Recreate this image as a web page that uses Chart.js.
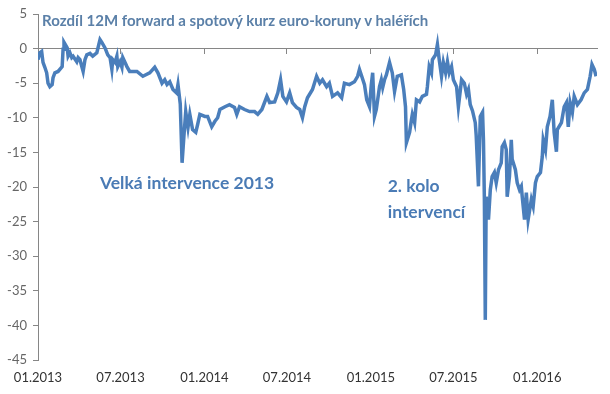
<!DOCTYPE html>
<html>
<head>
<meta charset="utf-8">
<script src="https://cdn.jsdelivr.net/npm/chart.js@4"></script>
<style>
  html, body { margin: 0; padding: 0; background: #fff; }
  #wrap { width: 610px; height: 394px; position: relative; }
  .note { position: absolute; white-space: nowrap; font-family: Lato, sans-serif; font-weight: bold; line-height: 1; transform: translateY(-50%); }
</style>
</head>
<body>
<div id="wrap"><canvas id="spreadChart" width="610" height="394"></canvas></div>
<script>
// tick positions in days since 1.1.2013, with their labels
const tickDays = [0, 181, 365, 546, 730, 911, 1095];
const tickLabels = ['01.2013', '07.2013', '01.2014', '07.2014', '01.2015', '07.2015', '01.2016'];
const yTicks = [-45, -40, -35, -30, -25, -20, -15, -10, -5, 0, 5];

// days since 1.1.2013
const days = [
    0, 4, 8, 11, 15, 19, 22, 26, 31, 33, 37, 44, 53, 55, 57, 64, 66, 70, 74, 77,
    85, 88, 92, 99, 103, 107, 114, 120, 129, 136, 140, 147, 153, 158, 162, 164, 169, 173, 175, 180,
    184, 186, 195, 201, 217, 230, 245, 256, 263, 272, 278, 283, 289, 296, 304, 307, 312, 316, 320, 324,
    329, 333, 339, 346, 350, 355, 366, 372, 381, 388, 394, 399, 410, 420, 431, 436, 442, 453, 464, 475,
    482, 491, 502, 508, 519, 526, 532, 537, 545, 552, 558, 567, 574, 580, 585, 591, 602, 611, 618, 624,
    633, 639, 646, 657, 666, 672, 683, 694, 701, 705, 710, 716, 721, 727, 731, 734, 738, 742, 749, 753,
    756, 760, 764, 771, 775, 777, 782, 788, 797, 802, 806, 808, 815, 819, 821, 826, 830, 837, 843, 852,
    854, 858, 863, 865, 872, 876, 880, 885, 889, 894, 898, 902, 907, 911, 918, 922, 929, 935, 940, 944,
    948, 953, 959, 961, 966, 970, 975, 977, 979, 981, 983, 988, 992, 996, 1001, 1005, 1010, 1016, 1018, 1023,
    1027, 1029, 1034, 1038, 1040, 1047, 1051, 1056, 1060, 1062, 1067, 1071, 1075, 1082, 1086, 1091, 1095, 1102, 1106, 1108,
    1113, 1117, 1123, 1128, 1132, 1137, 1139, 1148, 1154, 1159, 1163, 1167, 1172, 1176, 1183, 1191, 1198, 1205, 1211, 1215,
    1220, 1224
];

// forward minus spot, in haléře
const values = [
    -1.6, -0.6, -0.4, -2, -2.7, -3.5, -5, -5.5, -5.2, -4.2, -3.5, -3.3, -2.6, -0.1, 0.9, 0.1, -1.1, -0.6, -1.3, -1.1,
    -1.9, -1.3, -1.6, -3.3, -1.6, -0.9, -0.7, -1.1, -0.6, 1.3, 0.9, 0.1, -0.9, -1.3, -3, -1.6, -2, -1.1, -2.6, -1.9,
    -2.7, -1.3, -2.6, -3.3, -3.3, -4, -3.5, -2.7, -3.5, -5, -4.5, -5.2, -4.8, -5.9, -6.4, -5.2, -8, -16.5, -12.7, -9.1,
    -11.4, -9.5, -11.7, -12.1, -11, -9.5, -9.8, -9.8, -11.3, -10.5, -10, -8.8, -8.4, -8.1, -8.5, -9.5, -8.4, -8.8, -9.1, -9.1,
    -9.5, -8.8, -6.9, -7.8, -7.7, -6.4, -4.5, -6.9, -7.7, -6.4, -7.8, -8.5, -8.8, -10, -8.4, -7.1, -5.9, -4, -5, -4.5,
    -5.5, -5, -6.9, -6.4, -7.1, -5, -5.2, -4.8, -4, -3, -4, -5.2, -7.4, -8.4, -5.2, -3.5, -9.8, -8.8, -5.5, -4.5,
    -5.6, -4.5, -3.8, -2, -3, -3.5, -6.2, -4, -3.8, -5.9, -8.4, -13.6, -12.1, -10.3, -9.5, -10.7, -7.4, -7.7, -6.9, -6.6,
    -5.5, -2.6, -3.5, -1.6, -0.9, 0.6, -1.6, -4, -2, -3.5, -1.9, -3.5, -2.6, -4.5, -5.5, -8.4, -4.5, -5, -6.6, -5.9,
    -8.1, -9, -10.7, -12.5, -19.9, -9.8, -9.2, -13.2, -21.8, -39.2, -21.4, -24.7, -20.4, -18.5, -17.9, -19.4, -17.5, -16.5, -14.2, -13.6,
    -14.6, -21.4, -18.5, -13.2, -16, -17.5, -19.4, -20.4, -19.9, -21.4, -24.7, -20.8, -24.7, -21.8, -22.8, -19.4, -18.5, -17.9, -15.6, -13.2,
    -14.6, -11.3, -9.8, -7.4, -12.1, -14.9, -11.7, -10.7, -8.4, -7.8, -11.3, -7.8, -9.2, -6.9, -8.1, -7.4, -6.4, -5.9, -4, -2.3,
    -3, -4
];

const chartTitle = 'Rozdíl 12M forward a spotový kurz euro-koruny v haléřích';

// text placed in the plot, anchored to data coordinates
const notes = [
    { text: chartTitle, day: 9, value: 4.1, size: 15, color: '#5b80a8' },
    { text: 'Velká intervence 2013', day: 136, value: -19.4, size: 17.5, color: '#4a7bb5' },
    { text: '2. kolo', day: 767, value: -19.9, size: 17.5, color: '#4a7bb5' },
    { text: 'intervencí', day: 767, value: -23.6, size: 17.5, color: '#4a7bb5' }
];

const points = days.map((d, i) => ({ x: d, y: values[i] }));
const axisColor = '#868686';

const chart = new Chart(document.getElementById('spreadChart'), {
    type: 'line',
    data: {
        datasets: [{
            label: chartTitle,
            data: points,
            borderColor: '#4a7ebb',
            borderWidth: 3.5,
            pointRadius: 0,
            tension: 0,
            fill: false
        }]
    },
    options: {
        responsive: false,
        animation: false,
        layout: { padding: { left: 0, right: 13, top: 14, bottom: 0 } },
        plugins: {
            legend: { display: false },
            tooltip: { enabled: false }
        },
        scales: {
            x: {
                type: 'linear',
                min: 0,
                max: 1226,
                border: { display: false },
                grid: { display: false, drawTicks: false },
                afterBuildTicks: scale => { scale.ticks = tickDays.map(v => ({ value: v })); },
                afterFit: scale => { scale.height = 34; },
                ticks: {
                    autoSkip: false,
                    maxRotation: 0,
                    padding: 10,
                    color: '#333',
                    font: { family: 'Lato', size: 13 },
                    callback: (value, index) => tickLabels[index]
                }
            },
            x2: {
                axis: 'x',
                type: 'linear',
                position: { y: 0 },
                min: 0,
                max: 1226,
                border: { display: true, color: axisColor, width: 1 },
                grid: { drawOnChartArea: false, drawTicks: true, tickLength: 5, color: axisColor },
                afterBuildTicks: scale => { scale.ticks = tickDays.map(v => ({ value: v })); },
                ticks: { display: false }
            },
            y: {
                min: -45,
                max: 5,
                border: { display: true, color: axisColor, width: 1 },
                grid: { drawOnChartArea: false, drawTicks: true, tickLength: 5, color: axisColor },
                afterBuildTicks: scale => { scale.ticks = yTicks.map(v => ({ value: v })); },
                afterFit: scale => { scale.width = 38; },
                ticks: {
                    autoSkip: false,
                    padding: 6,
                    font: { family: 'Lato', size: 13 }
                }
            }
        }
    }
});

// put the notes on top of the canvas, placed through the chart scales
const wrap = document.getElementById('wrap');
notes.forEach(n => {
    const div = document.createElement('div');
    div.className = 'note';
    div.textContent = n.text;
    div.style.fontSize = n.size + 'px';
    div.style.color = n.color;
    div.style.left = chart.scales.x.getPixelForValue(n.day) + 'px';
    div.style.top = chart.scales.y.getPixelForValue(n.value) + 'px';
    wrap.appendChild(div);
});
</script>
</body>
</html>
